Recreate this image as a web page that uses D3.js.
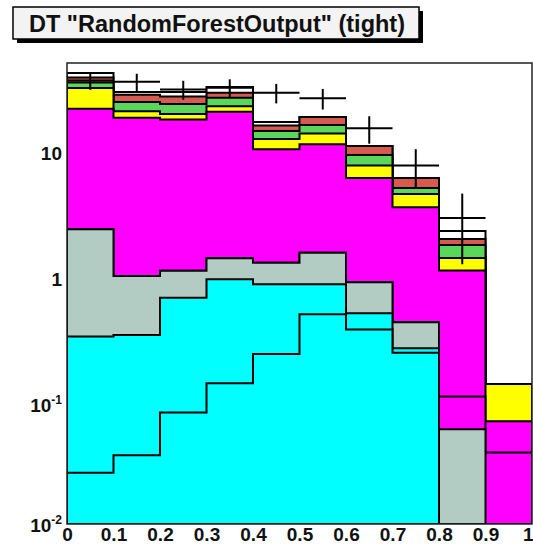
<!DOCTYPE html>
<html><head><meta charset="utf-8">
<script src="https://cdn.jsdelivr.net/npm/d3@7"></script>
<style>body{margin:0;background:#fff;} svg{display:block;}</style>
</head><body>
<svg id="c" width="533" height="547"></svg>
<script>
// ---- data ----
const binEdges = [0, 0.1, 0.2, 0.3, 0.4, 0.5, 0.6, 0.7, 0.8, 0.9, 1.0];
const xTickLabels = ["0", "0.1", "0.2", "0.3", "0.4", "0.5", "0.6", "0.7", "0.8", "0.9", "1"];
const yTickValues = [0.01, 0.1, 1, 10];
const yTickBase = ["10", "10", "1", "10"];
const yTickExp = ["-2", "-1", "", ""];
const titleText = 'DT "RandomForestOutput" (tight)';

// stacked components, bottom to top
const cyanLow  = [0.026, 0.036, 0.080, 0.138, 0.238, 0.50, 0.376, 0.244, 0, 0];
const cyanHigh = [0.303, 0.303, 0.60, 0.82, 0.635, 0.372, 0.132, 0.021, 0, 0];
const grayBkg  = [2.10, 0.68, 0.445, 0.46, 0.43, 0.70, 0.40, 0.165, 0.0585, 0];
const magentaA = [0, 0, 0, 0, 0, 0, 0, 0, 0.049, 0.038];
const magentaB = [20.6, 18.4, 17.7, 20.3, 9.5, 10.3, 5.42, 3.24, 1.02, 0.030];
const yellowBk = [10.9, 2.5, 2.0, 2.35, 2.3, 2.63, 1.66, 1.03, 0.30, 0.068];
const greenBk  = [3.67, 4.24, 4.29, 4.12, 2.1, 2.49, 1.73, 0.555, 0.39, 0];
const redBk    = [3.68, 3.65, 3.77, 2.76, 1.64, 2.74, 1.78, 1.075, 0.215, 0];
const whiteBk  = [3.6, 1.71, 2.54, 3.65, 1.14, 0, 0, 0, 0.327, 0];
const dataCounts = [39, 38, 33, 34, 31, 28, 16, 8, 3, 0];

const seriesKeys = ["cyanLow", "cyanHigh", "grayBkg", "magentaA", "magentaB", "yellowBk", "greenBk", "redBk", "whiteBk"];
const seriesArrays = {cyanLow, cyanHigh, grayBkg, magentaA, magentaB, yellowBk, greenBk, redBk, whiteBk};
const seriesColors = {cyanLow: "#00ffff", cyanHigh: "#00ffff", grayBkg: "#b2ccc4", magentaA: "#ff00ff",
  magentaB: "#ff00ff", yellowBk: "#ffff00", greenBk: "#5ad65a", redBk: "#d65a50", whiteBk: "#ffffff"};

// ---- layout ----
const L = 67, R = 532, T = 63, B = 524;
const yMin = 0.01, yMax = 54;
const svg = d3.select("#c");
const font = "'Liberation Sans', Arial, Helvetica, sans-serif";

const x = d3.scaleLinear().domain([0, 1]).range([L, R]);
const y = d3.scaleLog().domain([yMin, yMax]).range([B, T]);
const yc = v => (v > yMin ? y(v) : B);

const table = binEdges.slice(0, -1).map((e, i) => {
  const o = {lo: e, hi: binEdges[i + 1]};
  seriesKeys.forEach(k => o[k] = seriesArrays[k][i]);
  return o;
});
const stacked = d3.stack().keys(seriesKeys)(table);

svg.append("defs").append("clipPath").attr("id", "pc")
  .append("rect").attr("x", L).attr("y", T).attr("width", R - L).attr("height", B - T);

const g = svg.append("g").attr("clip-path", "url(#pc)");

function stepPath(layer) {
  const p = d3.path();
  p.moveTo(x(binEdges[0]), B);
  layer.forEach((d, i) => {
    const yy = yc(d[1]);
    p.lineTo(x(table[i].lo), yy);
    p.lineTo(x(table[i].hi), yy);
  });
  p.lineTo(x(binEdges[binEdges.length - 1]), B);
  p.closePath();
  return p.toString();
}

// draw from top layer down (THStack style)
stacked.slice().reverse().forEach(layer => {
  g.append("path").attr("d", stepPath(layer))
    .attr("fill", seriesColors[layer.key])
    .attr("stroke", "#000").attr("stroke-width", 2).attr("stroke-linejoin", "miter");
});

// data points with sqrt(N) errors
dataCounts.forEach((n, i) => {
  if (n <= 0) return;
  const cx = x((table[i].lo + table[i].hi) / 2);
  const e = Math.sqrt(n);
  g.append("line").attr("x1", x(table[i].lo)).attr("x2", x(table[i].hi))
    .attr("y1", y(n)).attr("y2", y(n)).attr("stroke", "#000").attr("stroke-width", 2);
  g.append("line").attr("x1", cx).attr("x2", cx)
    .attr("y1", yc(n - e)).attr("y2", y(n + e)).attr("stroke", "#000").attr("stroke-width", 2);
});

// frame
svg.append("rect").attr("x", L).attr("y", T).attr("width", R - L).attr("height", B - T)
  .attr("fill", "none").attr("stroke", "#222").attr("stroke-width", 1.5);

// x axis
const xAxis = d3.axisBottom(x).tickValues(binEdges).tickSize(0).tickPadding(4)
  .tickFormat((d, i) => xTickLabels[i]);
const gx = svg.append("g").attr("transform", `translate(0,${B})`).call(xAxis);
gx.select(".domain").remove();
gx.selectAll("text").attr("font-family", font).attr("font-weight", "bold")
  .attr("font-size", 19).attr("fill", "#111");
// last label sits at the window edge: keep it inside
gx.selectAll(".tick text").filter(d => d === 1).attr("text-anchor", "end").attr("x", 1);

// y axis
const yOffsets = [1, 5, 2.5, 0];
const yAxis = d3.axisLeft(y).tickValues(yTickValues).tickSize(0).tickPadding(5).tickFormat(() => "");
const gy = svg.append("g").attr("transform", `translate(${L},0)`).call(yAxis);
gy.select(".domain").remove();
gy.selectAll(".tick text").each(function(d, i) {
  const t = d3.select(this).attr("font-family", font).attr("font-weight", "bold")
    .attr("font-size", 19).attr("fill", "#111").attr("dy", null)
    .attr("y", yOffsets[i] + 6.5);
  t.append("tspan").text(yTickBase[i]);
  if (yTickExp[i]) {
    t.append("tspan").attr("font-size", 12).attr("dy", -8).text(yTickExp[i]);
  }
});

// title box
svg.append("rect").attr("x", 17).attr("y", 11).attr("width", 406).attr("height", 32).attr("fill", "#000");
svg.append("rect").attr("x", 13).attr("y", 7).attr("width", 406).attr("height", 32)
  .attr("fill", "#f3f3f3").attr("stroke", "#000").attr("stroke-width", 1.5);
svg.append("text").attr("x", 217).attr("y", 31.5).attr("text-anchor", "middle")
  .attr("font-family", font).attr("font-weight", "bold").attr("font-size", 23.5)
  .attr("fill", "#111").text(titleText);
</script>
</body></html>
